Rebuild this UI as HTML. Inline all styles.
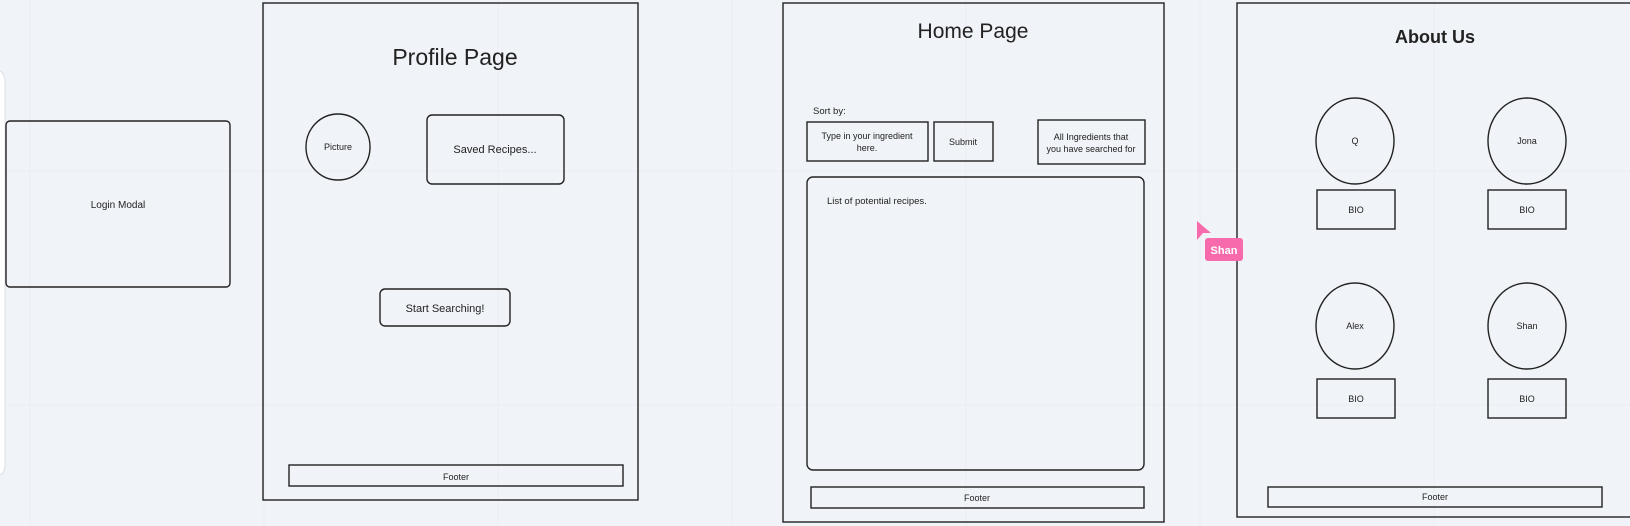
<!DOCTYPE html>
<html><head><meta charset="utf-8"><style>
html,body{margin:0;padding:0;background:#f0f3f6;}
svg{display:block;font-family:"Liberation Sans",Arial,sans-serif;}
</style></head><body>
<svg width="1630" height="526" viewBox="0 0 1630 526" xmlns="http://www.w3.org/2000/svg">
<rect width="1630" height="526" fill="#f0f3f7"/>
<g stroke="#eaedf1" stroke-width="1">
<line x1="30" y1="0" x2="30" y2="526"/><line x1="264" y1="0" x2="264" y2="526"/><line x1="498" y1="0" x2="498" y2="526"/><line x1="732" y1="0" x2="732" y2="526"/><line x1="966" y1="0" x2="966" y2="526"/><line x1="1200" y1="0" x2="1200" y2="526"/><line x1="1434" y1="0" x2="1434" y2="526"/>
<line x1="0" y1="171" x2="1630" y2="171"/><line x1="0" y1="405" x2="1630" y2="405"/>
</g>
<path d="M-20 70 H-5 Q5 70 5 82 V464 Q5 476 -5 476 H-20 Z" fill="#ffffff" stroke="#dde1e6"/>
<g fill="none" stroke="#222" stroke-width="1.4">
<rect x="6" y="121" width="224" height="166" rx="4"/>
<rect x="263" y="3" width="375" height="497"/>
<ellipse cx="338" cy="147" rx="32" ry="33"/>
<rect x="427" y="115" width="137" height="69" rx="5"/>
<rect x="380" y="289" width="130" height="37" rx="5"/>
<rect x="289" y="465" width="334" height="21"/>
<rect x="783" y="3" width="381" height="519"/>
<rect x="807" y="122" width="121" height="39"/>
<rect x="934" y="122" width="59" height="39"/>
<rect x="1038" y="120" width="107" height="44"/>
<rect x="807" y="177" width="337" height="293" rx="6"/>
<rect x="811" y="487" width="333" height="21"/>
<rect x="1237" y="3" width="400" height="514"/>
<ellipse cx="1355" cy="141" rx="39" ry="43"/>
<ellipse cx="1527" cy="141" rx="39" ry="43"/>
<ellipse cx="1355" cy="326" rx="39" ry="43"/>
<ellipse cx="1527" cy="326" rx="39" ry="43"/>
<rect x="1317" y="190" width="78" height="39"/>
<rect x="1488" y="190" width="78" height="39"/>
<rect x="1317" y="379" width="78" height="39"/>
<rect x="1488" y="379" width="78" height="39"/>
<rect x="1268" y="487" width="334" height="20"/>
</g>
<g fill="#222" text-anchor="middle">
<text x="118" y="208" font-size="10">Login Modal</text>
<text x="455" y="65" font-size="23">Profile Page</text>
<text x="338" y="150" font-size="9">Picture</text>
<text x="495" y="153" font-size="11">Saved Recipes...</text>
<text x="445" y="312" font-size="11">Start Searching!</text>
<text x="456" y="480" font-size="9">Footer</text>
<text x="973" y="38" font-size="21">Home Page</text>
<text x="813" y="114" font-size="9.5" text-anchor="start">Sort by:</text>
<text x="867" y="139" font-size="9">Type in your ingredient</text>
<text x="867" y="151" font-size="9">here.</text>
<text x="963" y="145" font-size="9">Submit</text>
<text x="1091" y="140" font-size="9">All Ingredients that</text>
<text x="1091" y="152" font-size="9">you have searched for</text>
<text x="827" y="204" font-size="9.5" text-anchor="start">List of potential recipes.</text>
<text x="977" y="501" font-size="9">Footer</text>
<text x="1435" y="43" font-size="18" font-weight="bold">About Us</text>
<text x="1355" y="144" font-size="9">Q</text>
<text x="1527" y="144" font-size="9">Jona</text>
<text x="1355" y="329" font-size="9">Alex</text>
<text x="1527" y="329" font-size="9">Shan</text>
<text x="1356" y="213" font-size="9">BIO</text>
<text x="1527" y="213" font-size="9">BIO</text>
<text x="1356" y="402" font-size="9">BIO</text>
<text x="1527" y="402" font-size="9">BIO</text>
<text x="1435" y="500" font-size="9">Footer</text>
</g>
<path d="M1197 221 L1211 233 L1203 233 L1197 240 Z" fill="#f76bac"/>
<rect x="1205" y="238" width="38" height="23" rx="3" fill="#f76bac"/>
<text x="1224" y="254" font-size="11" font-weight="bold" fill="#fff" text-anchor="middle">Shan</text>
</svg>
</body></html>
